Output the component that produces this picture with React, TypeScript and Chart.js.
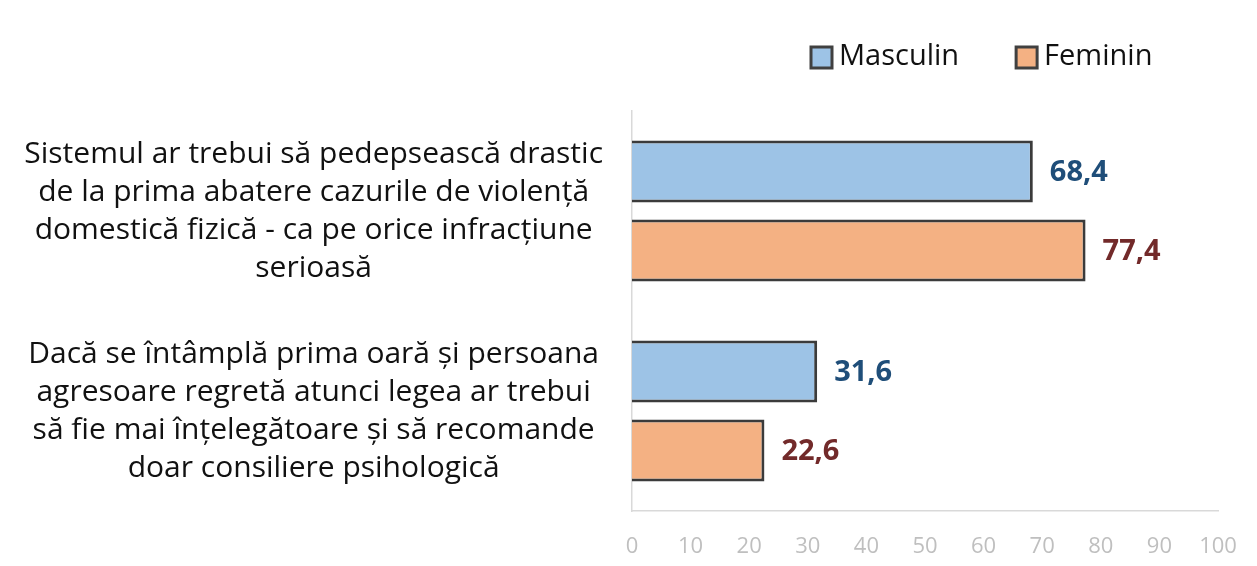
import React, { useEffect, useRef } from "react";
import { Chart, registerables } from "chart.js";

Chart.register(...registerables);

const categories: string[][] = [
  [
    "Sistemul ar trebui să pedepsească drastic",
    "de la prima abatere cazurile de violență",
    "domestică fizică - ca pe orice infracțiune",
    "serioasă",
  ],
  [
    "Dacă se întâmplă prima oară și persoana",
    "agresoare regretă atunci legea ar trebui",
    "să fie mai înțelegătoare și să recomande",
    "doar consiliere psihologică",
  ],
];
const seriesNames = ["Masculin", "Feminin"];
const masculin = [68.4, 31.6];
const feminin = [77.4, 22.6];
const xTicks = [0, 10, 20, 30, 40, 50, 60, 70, 80, 90, 100];

const FONT = "'Open Sans', sans-serif";
const fills = ["#9DC3E6", "#F4B183"];
const labelColors = ["#1F4E79", "#722A2A"];
const borderCol = "#3B3B3B";

const valueLabels = {
  id: "valueLabels",
  afterDatasetsDraw(chart: any) {
    const ctx = chart.ctx;
    ctx.save();
    ctx.font = `bold 29px ${FONT}`;
    ctx.textAlign = "left";
    ctx.textBaseline = "middle";
    chart.data.datasets.forEach((ds: any, di: number) => {
      const meta = chart.getDatasetMeta(di);
      meta.data.forEach((el: any, i: number) => {
        ctx.fillStyle = labelColors[di];
        ctx.fillText(String(ds.data[i]).replace(".", ","), el.x + 17, el.y + 1);
      });
    });
    ctx.restore();
  },
};

const customLegend = {
  id: "customLegend",
  afterDraw(chart: any) {
    const ctx = chart.ctx;
    ctx.save();
    ctx.font = `29px ${FONT}`;
    ctx.textBaseline = "middle";
    ctx.textAlign = "left";
    let x = chart.chartArea.left + 179;
    const y = 57;
    seriesNames.forEach((name, i) => {
      ctx.fillStyle = fills[i];
      ctx.fillRect(x, y - 10, 21, 21);
      ctx.strokeStyle = "#404040";
      ctx.lineWidth = 3;
      ctx.strokeRect(x, y - 10, 21, 21);
      ctx.fillStyle = "#111";
      ctx.fillText(name, x + 28, y);
      x += 28 + ctx.measureText(name).width + 57;
    });
    ctx.restore();
  },
};

export default function App() {
  const ref = useRef<HTMLCanvasElement | null>(null);
  useEffect(() => {
    document.body.style.margin = "0";
    if (!ref.current) return;
    const chart = new Chart(ref.current, {
      type: "bar",
      data: {
        labels: categories,
        datasets: [
          {
            label: seriesNames[0],
            data: masculin,
            backgroundColor: fills[0],
            borderColor: borderCol,
            borderWidth: 3,
            categoryPercentage: 0.79,
            barPercentage: 0.785,
          },
          {
            label: seriesNames[1],
            data: feminin,
            backgroundColor: fills[1],
            borderColor: borderCol,
            borderWidth: 3,
            categoryPercentage: 0.79,
            barPercentage: 0.785,
          },
        ],
      },
      options: {
        indexAxis: "y",
        animation: false,
        responsive: true,
        maintainAspectRatio: false,
        layout: { padding: { top: 111, right: 39, left: 0, bottom: 0 } },
        plugins: {
          legend: { display: false },
          tooltip: { enabled: false },
        },
        scales: {
          x: {
            min: 0,
            max: 100,
            afterBuildTicks(scale: any) {
              scale.ticks = xTicks.map((v) => ({ value: v }));
            },
            afterFit(scale: any) {
              scale.height = 55;
              scale.paddingLeft = 0;
              scale.paddingRight = 0;
            },
            grid: { display: false, drawTicks: false },
            border: { display: true, color: "#D9D9D9", width: 1.5 },
            ticks: {
              color: "#BFBFBF",
              font: { family: FONT, size: 22 },
              padding: 23,
              maxRotation: 0,
            },
          },
          y: {
            afterFit(scale: any) {
              scale.width = 632;
              scale.paddingTop = 0;
              scale.paddingBottom = 0;
            },
            grid: { display: false, drawTicks: false },
            border: { display: true, color: "#D9D9D9", width: 1.5 },
            ticks: {
              color: "#111",
              crossAlign: "center",
              padding: 29,
              font: { family: FONT, size: 30, lineHeight: 1.267 },
            },
          },
        },
      },
      plugins: [valueLabels, customLegend],
    });
    return () => chart.destroy();
  }, []);
  return (
    <div style={{ width: 1257, height: 566, position: "relative", background: "#fff" }}>
      <canvas ref={ref} />
    </div>
  );
}
